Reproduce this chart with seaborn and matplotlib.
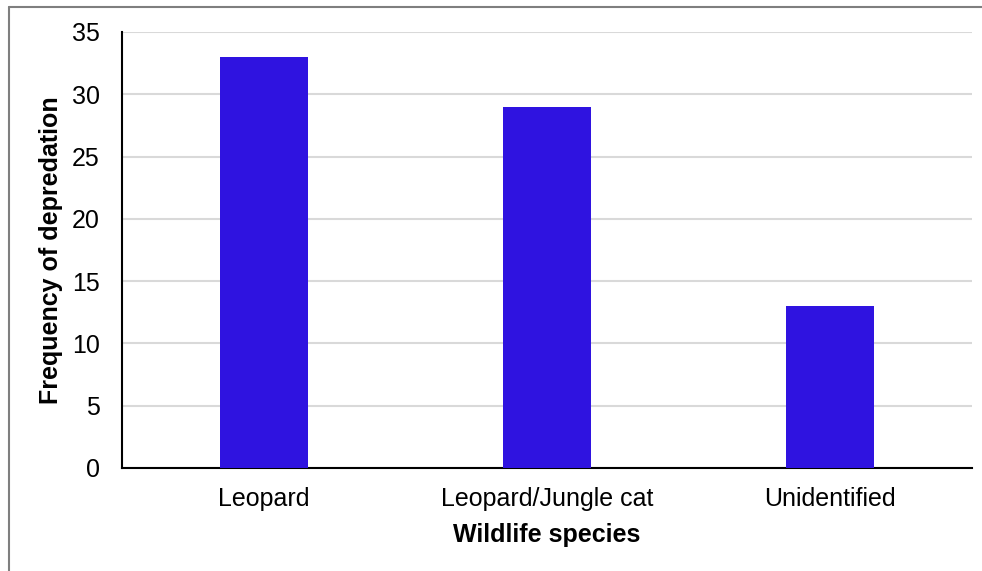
import matplotlib
matplotlib.use("Agg")
import matplotlib.pyplot as plt
from matplotlib.lines import Line2D
import seaborn as sns
import pandas as pd

# Depredation events attributed to each wildlife species
species = ["Leopard", "Leopard/Jungle cat", "Unidentified"]
frequency = [33, 29, 13]
y_ticks = [0, 5, 10, 15, 20, 25, 30, 35]

df = pd.DataFrame({"species": species, "frequency": frequency})

sns.set_theme(style="white")
plt.rcParams["font.family"] = ["Liberation Sans", "DejaVu Sans"]

fig = plt.figure(figsize=(9.82, 5.71), dpi=100)
ax = fig.add_axes([0.1242, 0.1804, 0.8656, 0.7636])

sns.barplot(data=df, x="species", y="frequency", color="#2F13E0",
            width=0.31, saturation=1, linewidth=0, ax=ax, zorder=3)

ax.set_ylim(0, 35)
ax.set_yticks(y_ticks)
ax.set_xlim(-0.5, 2.5)
ax.yaxis.grid(True, color="#d9d9d9", linewidth=1.5, zorder=0)
ax.set_axisbelow(True)

for side in ["top", "right"]:
    ax.spines[side].set_visible(False)
for side in ["left", "bottom"]:
    ax.spines[side].set_color("black")
    ax.spines[side].set_linewidth(1.5)

ax.tick_params(axis="both", length=0, labelsize=18, colors="black")
ax.tick_params(axis="y", pad=16)
ax.tick_params(axis="x", pad=13.5)

ax.set_xlabel("Wildlife species", fontsize=18, fontweight="bold",
              color="black", labelpad=9)
ax.set_ylabel("Frequency of depredation", fontsize=18, fontweight="bold",
              color="black", labelpad=6)

# Outer frame of the chart area
frame_color = "#7f7f7f"
fig.add_artist(Line2D([9 / 982, 1.0], [1 - 7 / 571, 1 - 7 / 571],
                      transform=fig.transFigure, color=frame_color, linewidth=1.5))
fig.add_artist(Line2D([9 / 982, 9 / 982], [0.0, 1 - 7 / 571],
                      transform=fig.transFigure, color=frame_color, linewidth=1.5))

fig.savefig("out.png", dpi=100)
